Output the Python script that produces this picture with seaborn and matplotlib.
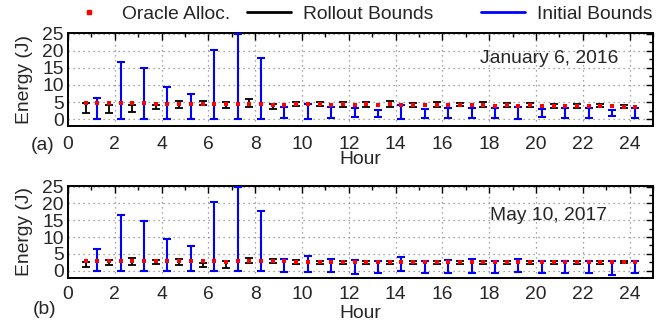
import numpy as np
import pandas as pd
import matplotlib
matplotlib.use("Agg")
import matplotlib.pyplot as plt
import seaborn as sns
from matplotlib.lines import Line2D
from matplotlib.ticker import MultipleLocator

# ---------------- data ----------------
hours = list(range(1, 25))
oracle_times = [h + d for h in range(0, 25) for d in (0.75, 1.25) if h + d <= 24.25][:48]

oracle_a = [4.7, 4.7, 4.7, 4.7, 4.7, 4.6, 4.5, 4.4, 4.4, 4.4, 4.5, 4.4, 4.4, 4.4, 4.4, 4.3,
            4.2, 4.2, 4.3, 4.3, 4.3, 4.2, 4.3, 4.2, 4.3, 4.0, 4.3, 4.1, 4.2, 4.0, 4.2, 4.0,
            4.1, 4.1, 4.1, 3.9, 4.0, 3.9, 4.0, 3.9, 3.8, 3.9, 3.8, 3.9, 3.9, 3.9, 3.6, 3.7]
rollout_lo_a = [1.9, 1.8, 2.1, 3.0, 3.2, 4.0, 3.2, 3.6, 3.0, 3.8, 3.8, 3.7,
                3.5, 3.5, 3.6, 3.6, 3.8, 3.5, 3.5, 3.7, 3.2, 3.4, 3.6, 3.4]
rollout_hi_a = [4.6, 4.2, 4.1, 4.2, 5.4, 5.4, 4.9, 5.8, 4.3, 5.0, 5.0, 5.0,
                5.1, 5.2, 4.8, 4.9, 4.7, 4.9, 4.8, 4.6, 4.3, 4.3, 4.4, 4.0]
initial_lo_a = [0.0, 0.0, 0.0, 0.0, 0.0, 0.0, 0.0, 0.0, 0.2, 0.1, 0.3, 0.6,
                0.7, 0.1, 0.3, 0.3, 0.3, 0.3, 0.0, 0.5, 0.3, 0.3, 0.9, 0.4]
initial_hi_a = [6.3, 16.6, 14.9, 9.5, 7.3, 20.3, 25.0, 17.9, 3.7, 4.4, 3.7, 3.2,
                2.8, 4.2, 2.9, 3.2, 3.4, 3.2, 3.6, 2.9, 3.2, 3.2, 2.7, 3.2]

oracle_b = [2.9, 2.9, 2.9, 2.9, 2.9, 2.9, 2.9, 2.9, 2.9, 2.9, 2.8, 2.8, 2.7, 2.8, 2.8, 2.8,
            2.8, 2.8, 2.7, 2.7, 2.7, 2.7, 2.7, 2.7, 2.7, 2.7, 2.6, 2.7, 2.6, 2.6, 2.6, 2.7,
            2.6, 2.7, 2.6, 2.6, 2.6, 2.6, 2.6, 2.6, 2.6, 2.6, 2.5, 2.6, 2.6, 2.6, 2.6, 2.5]
rollout_lo_b = [1.0, 1.7, 1.7, 2.0, 1.7, 1.0, 0.7, 2.2, 2.2, 2.1, 2.0, 2.0,
                2.0, 2.0, 2.1, 2.0, 2.0, 2.0, 2.1, 2.1, 2.1, 2.1, 2.1, 2.3]
rollout_hi_b = [2.5, 3.2, 3.7, 3.2, 3.5, 2.4, 3.0, 3.9, 3.5, 3.2, 3.0, 3.0,
                3.0, 3.0, 2.8, 3.0, 3.0, 3.0, 3.0, 3.0, 3.0, 3.0, 3.0, 3.0]
initial_lo_b = [0.0, 0.0, 0.0, 0.0, 0.0, 0.0, 0.0, 0.0, -0.5, -0.4, -0.4, -1.0,
                -0.8, 0.0, -0.7, -0.8, -0.6, -0.8, -0.5, -0.8, -0.8, -0.8, -1.2, -0.8]
initial_hi_b = [6.3, 16.6, 14.8, 9.4, 7.2, 20.4, 25.0, 17.8, 3.5, 4.3, 3.5, 3.1,
                3.0, 4.1, 2.9, 3.2, 3.4, 3.0, 3.4, 2.8, 3.0, 2.8, 2.8, 3.0]

panel_tags = ["(a)", "(b)"]
dates = ["January 6, 2016", "May 10, 2017"]
legend_labels = ["Oracle Alloc.", "Rollout Bounds", "Initial Bounds"]

# ---------------- style ----------------
sns.set_style("white")
plt.rcParams["font.family"] = ["Liberation Sans", "DejaVu Sans"]
FS = 13.9

fig = plt.figure(figsize=(6.62, 3.24), dpi=100)
L, R = 68 / 662, 653 / 662
axa = fig.add_axes([L, 1 - 126 / 324, R - L, (126 - 33) / 324])
axb = fig.add_axes([L, 1 - 278 / 324, R - L, (278 - 186) / 324])

panels = [
    (axa, oracle_a, rollout_lo_a, rollout_hi_a, initial_lo_a, initial_hi_a, (-2.0, 25.2)),
    (axb, oracle_b, rollout_lo_b, rollout_hi_b, initial_lo_b, initial_hi_b, (-2.2, 25.2)),
]
date_pos = [(0.94, 0.724), (0.922, 0.674)]
tag_pos = [(-0.044, -0.205), (-0.040, -0.34)]
hour_pad = [-1, 1]

for i, (ax, orc, rlo, rhi, ilo, ihi, ylim) in enumerate(panels):
    hx = np.array(hours, dtype=float)
    rlo, rhi, ilo, ihi = map(np.array, (rlo, rhi, ilo, ihi))
    rmid = (rlo + rhi) / 2
    ax.errorbar(hx - 0.25, rmid, yerr=[rmid - rlo, rhi - rmid], fmt="none",
                ecolor="black", elinewidth=1.3, capsize=3.2, capthick=1.3, zorder=3)
    imid = (ilo + ihi) / 2
    ax.errorbar(hx + 0.25, imid, yerr=[imid - ilo, ihi - imid], fmt="none",
                ecolor="#0000ff", elinewidth=1.5, capsize=3.2, capthick=1.5, zorder=3)
    df = pd.DataFrame({"t": oracle_times, "e": orc})
    sns.scatterplot(data=df, x="t", y="e", ax=ax, color="#ff0000", marker="s",
                    s=11, linewidth=0, zorder=5, legend=False)

    ax.set_xlim(0, 25)
    ax.set_ylim(*ylim)
    ax.xaxis.set_major_locator(MultipleLocator(2))
    ax.xaxis.set_minor_locator(MultipleLocator(1))
    ax.yaxis.set_minor_locator(MultipleLocator(2.5))
    ax.set_yticks([0, 5, 10, 15, 20, 25])
    ax.tick_params(which="both", direction="in", top=True, right=True,
                   labelsize=FS, width=1.0, color="black")
    ax.tick_params(axis="x", which="major", pad=7 if i == 0 else 6)
    ax.tick_params(axis="y", which="major", pad=3)
    ax.tick_params(which="major", length=5)
    ax.tick_params(which="minor", length=3)
    ax.grid(True, which="major", linestyle=(0, (1, 3)), color="#888888", linewidth=0.9)
    for sp in ax.spines.values():
        sp.set_linewidth(1.4)
        sp.set_color("black")
    ax.set_xlabel("Hour", fontsize=FS, labelpad=hour_pad[i])
    ax.set_ylabel("Energy (J)", fontsize=FS, labelpad=7)
    ax.text(date_pos[i][0], date_pos[i][1], dates[i], transform=ax.transAxes,
            fontsize=FS, ha="right", va="center")
    ax.text(tag_pos[i][0], tag_pos[i][1], panel_tags[i], transform=ax.transAxes,
            fontsize=FS, ha="center", va="center")

handles = [
    Line2D([], [], color="#ff0000", marker="s", linestyle="none", markersize=3.5),
    Line2D([], [], color="black", linewidth=2.0),
    Line2D([], [], color="#0000ff", linewidth=2.0),
]
anchors = [66.5, 247, 481]
for h, lab, xa in zip(handles, legend_labels, anchors):
    fig.legend([h], [lab], loc="center left", bbox_to_anchor=(xa / 662, 1 - 14 / 324),
               frameon=False, fontsize=FS, handlelength=2.3, handletextpad=0.6,
               borderpad=0, borderaxespad=0)

fig.savefig("out.png", dpi=100)
